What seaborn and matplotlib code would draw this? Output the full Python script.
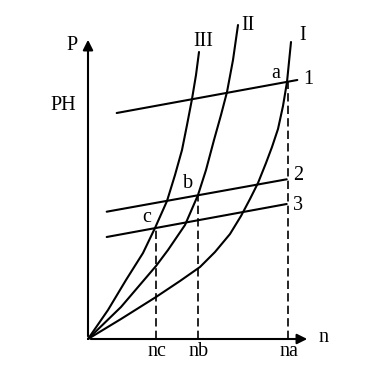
import matplotlib
matplotlib.use("Agg")
import matplotlib.pyplot as plt
import seaborn as sns
import pandas as pd

# curves I, II, III (n, P)
n_I = [0, 33, 68, 92, 112, 127, 142, 153, 162, 170, 178, 184, 190, 195, 199, 203]
p_I = [0, 20, 42, 58, 72, 87, 105, 123, 140, 156, 176, 192, 210, 233, 257, 297]
n_II = [0, 33, 68, 80, 97, 110, 118, 126, 133, 139, 145, 150]
p_II = [0, 32, 73, 89, 114, 144, 169, 199, 224, 247, 279, 314]
n_III = [0, 20, 38, 55, 67, 79, 87, 94, 99, 104, 108, 111]
p_III = [0, 29, 59, 86, 111, 138, 164, 189, 214, 240, 264, 287]

# lines 1, 2, 3 (end points)
n_line = [28.7, 209.3]
p_line1 = [226, 259]
n_line23 = [18.7, 198.7]
p_line2 = [127.3, 159.7]
p_line3 = [102, 135]

# operating points a, b, c
pt_names = ["a", "b", "c"]
pt_n = [200, 110, 68]
pt_p = [257, 144, 111]
tick_labels = ["na", "nb", "nc"]

sns.set_style("white")
plt.rcParams["font.family"] = ["Liberation Serif", "DejaVu Serif"]
plt.rcParams["text.color"] = "black"

fig = plt.figure(figsize=(3.83, 3.70), dpi=100)
ax = fig.add_axes([0, 0, 1, 1])
ax.set_xlim(-88, 295)
ax.set_ylim(-31, 339)
ax.set_axis_off()

lw = 1.5
k = "black"
curves = pd.concat([
    pd.DataFrame({"n": n_I, "P": p_I, "c": "I"}),
    pd.DataFrame({"n": n_II, "P": p_II, "c": "II"}),
    pd.DataFrame({"n": n_III, "P": p_III, "c": "III"}),
])
sns.lineplot(data=curves, x="n", y="P", units="c", estimator=None, sort=False,
             color=k, lw=lw, ax=ax, solid_joinstyle="round")
sns.lineplot(x=n_line, y=p_line1, color=k, lw=lw, ax=ax)
sns.lineplot(x=n_line23, y=p_line2, color=k, lw=lw, ax=ax)
sns.lineplot(x=n_line23, y=p_line3, color=k, lw=lw, ax=ax)

for x, y in zip(pt_n, pt_p):
    ax.plot([x, x], [0, y], color=k, lw=1.2, ls=(0, (5, 2.5)))

# axes with arrows
x_end, y_end = 222, 302
ax.annotate("", xy=(x_end, 0), xytext=(0, 0),
            arrowprops=dict(arrowstyle="-|>", color=k, lw=lw, mutation_scale=15))
ax.annotate("", xy=(0, y_end), xytext=(0, 0),
            arrowprops=dict(arrowstyle="-|>", color=k, lw=lw, mutation_scale=15))

fs = 14.5
ax.text(235, 1, "n", fontsize=fs, ha="center", va="center")
ax.text(-16, 294, "P", fontsize=fs, ha="center", va="center")
ax.text(-25, 233, "PH", fontsize=fs, ha="center", va="center")
ax.text(115, 297, "III", fontsize=fs, ha="center", va="center")
ax.text(160, 313, "II", fontsize=fs, ha="center", va="center")
ax.text(215, 303, "I", fontsize=fs, ha="center", va="center")
ax.text(220, 259, "1", fontsize=fs, ha="center", va="center")
ax.text(210, 164, "2", fontsize=fs, ha="center", va="center")
ax.text(210, 134, "3", fontsize=fs, ha="center", va="center")
for name, dx, dy in zip(pt_names, [-12, -10, -9], [8, 11, 10]):
    i = pt_names.index(name)
    ax.text(pt_n[i] + dx, pt_p[i] + dy, name, fontsize=fs, ha="center", va="center")
for x, lab in zip(pt_n, tick_labels):
    ax.text(x + 1, -13, lab, fontsize=fs, ha="center", va="center")

fig.savefig("out.png", dpi=100)
